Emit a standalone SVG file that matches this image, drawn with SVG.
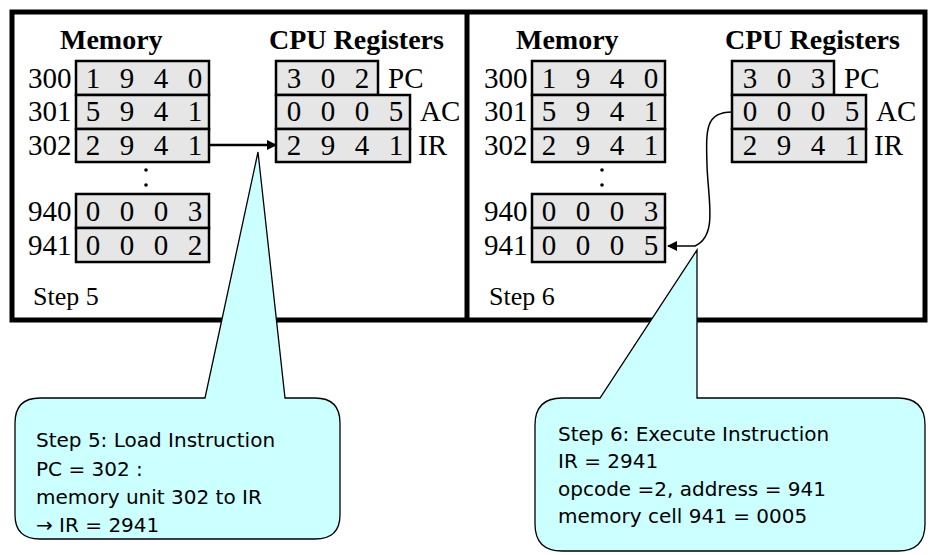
<svg xmlns="http://www.w3.org/2000/svg" width="935" height="555" viewBox="0 0 935 555">
<defs>
<style>
.cell{fill:#e6e6e6;stroke:#000;stroke-width:2.5}
.d{font-family:"Liberation Serif",serif;font-size:29px;fill:#000}
.h{font-family:"Liberation Serif",serif;font-size:28px;font-weight:bold;fill:#000}
.c{fill:#ccffff;stroke:#000;stroke-width:1.3}
.t{font-family:"DejaVu Sans",Verdana,sans-serif;font-size:20px;fill:#000}
</style>
<marker id="ah" markerWidth="10" markerHeight="10" refX="9" refY="5" orient="auto" markerUnits="userSpaceOnUse" viewBox="0 0 10 10"><path d="M0,0L10,5L0,10z" fill="#000"/></marker>
<g id="panel">
<text class="h" x="60" y="49">Memory</text>
<text class="h" x="269" y="49">CPU Registers</text>
<rect class="cell" x="76" y="61" width="133" height="34"/>
<rect class="cell" x="76" y="95" width="133" height="34"/>
<rect class="cell" x="76" y="129" width="133" height="33"/>
<rect class="cell" x="76" y="194" width="133" height="34"/>
<rect class="cell" x="76" y="228" width="133" height="34"/>
<text class="d" x="28" y="88">300</text><text class="d" x="28" y="121">301</text><text class="d" x="28" y="155">302</text>
<text class="d" x="28" y="221">940</text><text class="d" x="28" y="255">941</text>
<circle cx="146" cy="170" r="1.8"/><circle cx="146" cy="185" r="1.8"/>
<rect class="cell" x="276" y="61" width="102" height="34"/>
<rect class="cell" x="276" y="95" width="134" height="34"/>
<rect class="cell" x="276" y="129" width="134" height="33"/>
<text class="d" x="388" y="88">PC</text><text class="d" x="420" y="121">AC</text><text class="d" x="418" y="155">IR</text>
</g>
</defs>
<rect x="0" y="0" width="935" height="555" fill="#fff"/>
<g id="step5">
<use href="#panel"/>
<g class="d" text-anchor="middle">
<text x="93" y="88">1</text><text x="127" y="88">9</text><text x="161" y="88">4</text><text x="195" y="88">0</text>
<text x="93" y="121">5</text><text x="127" y="121">9</text><text x="161" y="121">4</text><text x="195" y="121">1</text>
<text x="93" y="155">2</text><text x="127" y="155">9</text><text x="161" y="155">4</text><text x="195" y="155">1</text>
<text x="93" y="221">0</text><text x="127" y="221">0</text><text x="161" y="221">0</text><text x="195" y="221">3</text>
<text x="93" y="255">0</text><text x="127" y="255">0</text><text x="161" y="255">0</text><text x="195" y="255">2</text>
<text x="294" y="88">3</text><text x="328" y="88">0</text><text x="362" y="88">2</text>
<text x="294" y="121">0</text><text x="328" y="121">0</text><text x="362" y="121">0</text><text x="396" y="121">5</text>
<text x="294" y="155">2</text><text x="328" y="155">9</text><text x="362" y="155">4</text><text x="396" y="155">1</text>
</g>
<text class="d" x="33" y="305" style="font-size:26px">Step 5</text>
</g>
<g id="step6">
<use href="#panel" x="456"/>
<g class="d" text-anchor="middle">
<text x="549" y="88">1</text><text x="583" y="88">9</text><text x="617" y="88">4</text><text x="651" y="88">0</text>
<text x="549" y="121">5</text><text x="583" y="121">9</text><text x="617" y="121">4</text><text x="651" y="121">1</text>
<text x="549" y="155">2</text><text x="583" y="155">9</text><text x="617" y="155">4</text><text x="651" y="155">1</text>
<text x="549" y="221">0</text><text x="583" y="221">0</text><text x="617" y="221">0</text><text x="651" y="221">3</text>
<text x="549" y="255">0</text><text x="583" y="255">0</text><text x="617" y="255">0</text><text x="651" y="255">5</text>
<text x="750" y="88">3</text><text x="784" y="88">0</text><text x="818" y="88">3</text>
<text x="750" y="121">0</text><text x="784" y="121">0</text><text x="818" y="121">0</text><text x="852" y="121">5</text>
<text x="750" y="155">2</text><text x="784" y="155">9</text><text x="818" y="155">4</text><text x="852" y="155">1</text>
</g>
<text class="d" x="489" y="305" style="font-size:26px">Step 6</text>
</g>
<g id="frame" fill="none" stroke="#000" stroke-width="5">
<rect x="12" y="12" width="913" height="308"/>
<line x1="467" y1="12" x2="467" y2="320"/>
</g>
<g id="connectors" fill="none" stroke="#000">
<line x1="209" y1="145" x2="276" y2="145" stroke-width="2.5" marker-end="url(#ah)"/>
<path d="M732,112 C705,112 706,130 707,165 C708,200 718,236 695,246 L668,246" stroke-width="1.5" marker-end="url(#ah)"/>
</g>
<g id="callout5">
<path class="c" d="M40,398 L205,398 L258,152 L285,398 L315,398 Q340,398 340,423 L340,515 Q340,539 315,539 L40,539 Q15,539 15,515 L15,423 Q15,398 40,398 Z"/>
<text class="t" x="36" y="447">Step 5: Load Instruction</text>
<text class="t" x="36" y="476">PC = 302 :</text>
<text class="t" x="36" y="504">memory unit 302 to IR</text>
<text class="t" x="36" y="532">→ IR = 2941</text>
</g>
<g id="callout6">
<path class="c" d="M562,398 L600,398 L697,250 L697,398 L898,398 Q925,398 925,425 L925,524 Q925,551 898,551 L562,551 Q535,551 535,524 L535,425 Q535,398 562,398 Z"/>
<text class="t" x="558" y="441">Step 6: Execute Instruction</text>
<text class="t" x="558" y="468">IR = 2941</text>
<text class="t" x="558" y="496">opcode =2, address = 941</text>
<text class="t" x="558" y="523"> memory cell 941 = 0005</text>
</g>
</svg>
